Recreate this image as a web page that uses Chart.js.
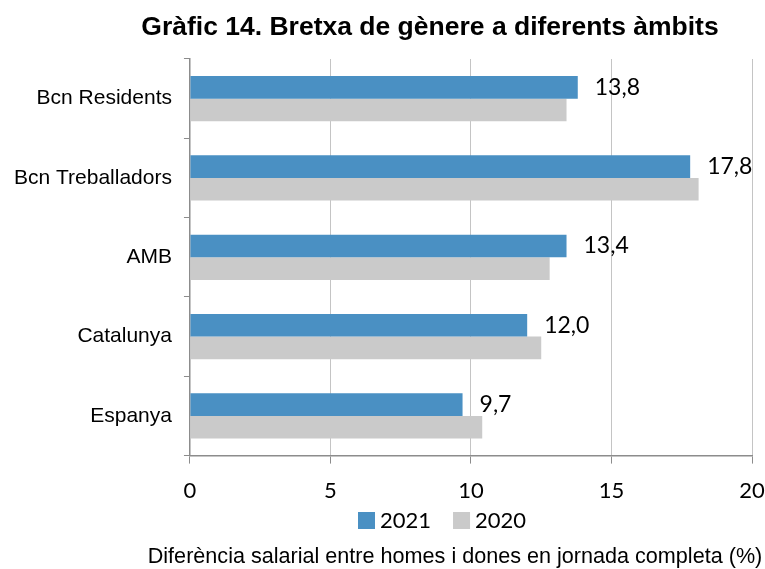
<!DOCTYPE html>
<html>
<head>
<meta charset="utf-8">
<script src="https://cdn.jsdelivr.net/npm/chart.js@4.4.0/dist/chart.umd.min.js"></script>
<style>
  html, body { margin: 0; padding: 0; background: #fff; }
  #wrap { width: 765px; height: 569px; }
</style>
</head>
<body>
<div id="wrap"><canvas id="chart" width="765" height="569"></canvas></div>
<script>
/* ---------- dades ---------- */
const categories = ["Bcn Residents", "Bcn Treballadors", "AMB", "Catalunya", "Espanya"];
const values2021 = [13.8, 17.8, 13.4, 12.0, 9.7];
const values2020 = [13.4, 18.1, 12.8, 12.5, 10.4];
const xTicks = [0, 5, 10, 15, 20];

const TITLE = "Gràfic 14. Bretxa de gènere a diferents àmbits";
const AXIS_TITLE = "Diferència salarial entre homes i dones en jornada completa (%)";

const BLUE = "#4a90c3";
const GREY = "#cacaca";
const LINE = "#8c8c8c";
const NUM_FONT = "Lato, 'Open Sans', sans-serif";
const TXT_FONT = "'Liberation Sans', Arial, sans-serif";

/* ---------- títol, llegenda i títol de l'eix (a sota de la llegenda) ---------- */
const textsPlugin = {
  id: "texts",
  afterDraw(chart) {
    const ctx = chart.ctx;
    ctx.save();
    ctx.fillStyle = "#000";
    ctx.textBaseline = "middle";
    ctx.textAlign = "center";
    ctx.font = "bold 26.5px " + TXT_FONT;
    ctx.fillText(TITLE, 430, 28);
    ctx.font = "21.6px " + TXT_FONT;
    ctx.fillText(AXIS_TITLE, 455, 557);

    // llegenda centrada com a l'original
    ctx.textAlign = "left";
    ctx.font = "22px " + NUM_FONT;
    let x = 358;
    const y = 521;
    chart.data.datasets.forEach((ds) => {
      ctx.fillStyle = ds.backgroundColor;
      ctx.fillRect(x, y - 9, 17, 17);
      ctx.fillStyle = "#000";
      ctx.fillText(ds.label, x + 22, y);
      x += 22 + ctx.measureText(ds.label).width + 22;
    });
    ctx.restore();
  }
};

/* ---------- etiquetes de valor (només 2021) ---------- */
const valueLabels = {
  id: "valueLabels",
  afterDatasetsDraw(chart) {
    const ctx = chart.ctx;
    const meta = chart.getDatasetMeta(0);
    ctx.save();
    ctx.fillStyle = "#000";
    ctx.font = "23px " + NUM_FONT;
    ctx.textAlign = "left";
    ctx.textBaseline = "middle";
    meta.data.forEach((bar, i) => {
      const txt = values2021[i].toFixed(1).replace(".", ",");
      ctx.fillText(txt, bar.x + 17, bar.y);
    });
    ctx.restore();
  }
};

new Chart(document.getElementById("chart"), {
  type: "bar",
  data: {
    labels: categories,
    datasets: [
      { label: "2021", data: values2021, backgroundColor: BLUE },
      { label: "2020", data: values2020, backgroundColor: GREY }
    ]
  },
  options: {
    indexAxis: "y",
    responsive: false,
    animation: false,
    datasets: { bar: { categoryPercentage: 0.57, barPercentage: 1 } },
    layout: { padding: { top: 59, left: 2, right: 0, bottom: 51 } },
    scales: {
      x: {
        min: 0,
        max: 20,
        afterBuildTicks: (axis) => { axis.ticks = xTicks.map((v) => ({ value: v })); },
        afterFit: (axis) => { axis.paddingRight = 13; },
        grid: { color: "#c4c4c4", tickColor: LINE, tickLength: 8, lineWidth: 1 },
        border: { color: LINE, width: 1.5 },
        ticks: { color: "#000", font: { family: NUM_FONT, size: 22 }, padding: 14 }
      },
      y: {
        grid: { drawOnChartArea: false, tickColor: LINE, tickLength: 6, offset: true },
        border: { color: LINE, width: 1.5 },
        ticks: { color: "#000", font: { family: TXT_FONT, size: 21 }, padding: 12 }
      }
    },
    plugins: {
      title: { display: false },
      tooltip: { enabled: false },
      legend: { display: false }
    }
  },
  plugins: [valueLabels, textsPlugin]
});
</script>
</body>
</html>
